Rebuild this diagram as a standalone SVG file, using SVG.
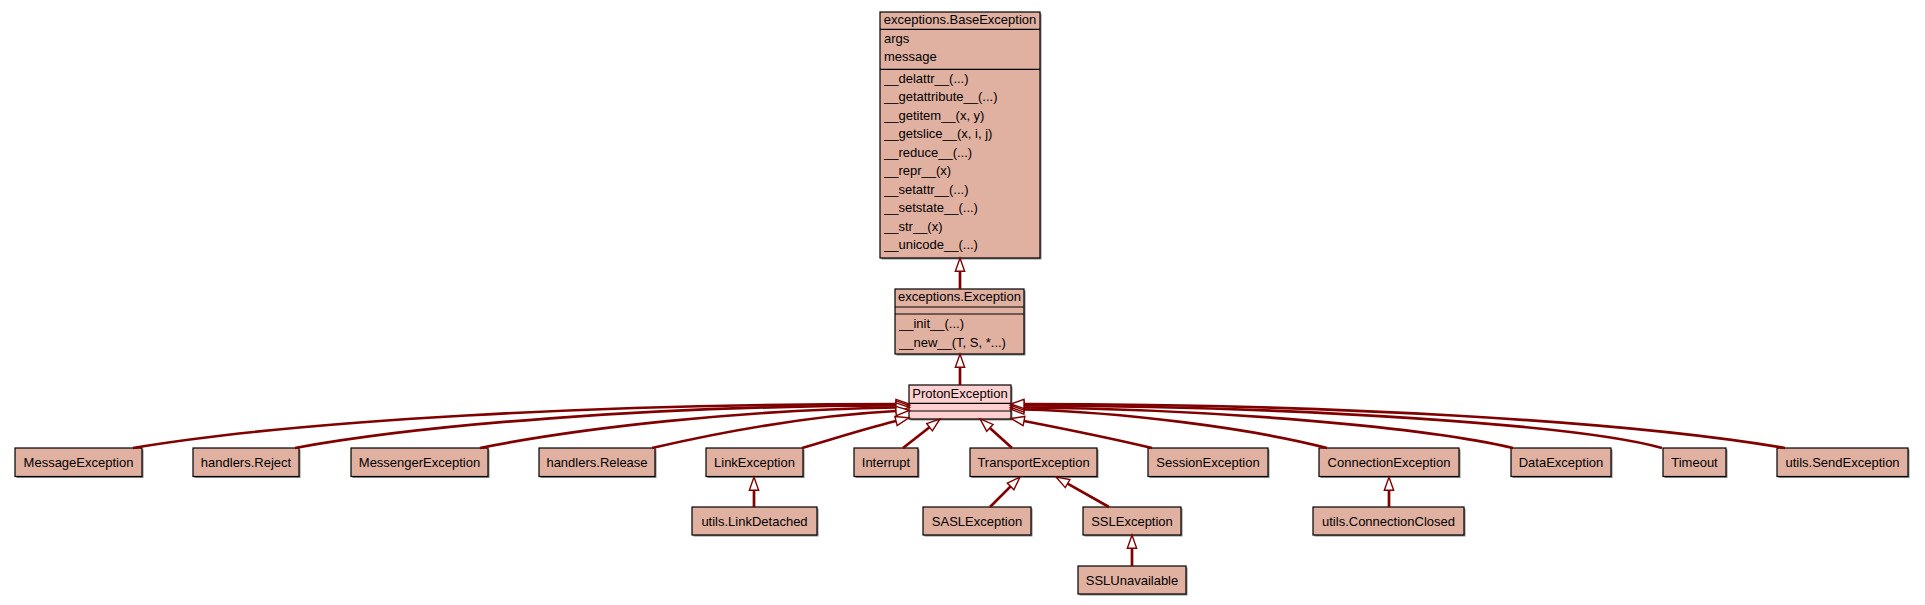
<svg xmlns="http://www.w3.org/2000/svg" width="1925" height="605" viewBox="0 0 1925 605">
<style>
.b{fill:#e0b0a0;stroke:#000;stroke-width:1.2}
.sel{fill:#ffd0d0;stroke:#000;stroke-width:1.2}
.sh{fill:#8a8a8a}
.sep{stroke:#000;stroke-width:1.2}
text{font-family:"Liberation Sans",Arial,Helvetica,sans-serif;font-size:13px;fill:#000}
.c{text-anchor:middle}
.e{fill:none;stroke:#800000;stroke-width:2.7;marker-end:url(#inh)}
</style>
<defs>
<marker id="inh" markerUnits="userSpaceOnUse" markerWidth="16" markerHeight="12" refX="0" refY="5" orient="auto" overflow="visible">
<path d="M0,0.35 L13.3,5 L0,9.65 z" fill="#fff" stroke="#800000" stroke-width="1.4"/>
</marker>
</defs>
<rect width="1925" height="605" fill="#fff"/>

<g id="BaseException">
<rect class="sh" x="881.5" y="13.5" width="160" height="246"/>
<rect class="b" x="880" y="12" width="160" height="246"/>
<line class="sep" x1="880" y1="29.3" x2="1040" y2="29.3"/>
<line class="sep" x1="880" y1="69.3" x2="1040" y2="69.3"/>
<text class="c" x="960" y="24">exceptions.BaseException</text>
<text x="884" y="42.8">args</text>
<text x="884" y="61.2">message</text>
<text x="884" y="82.7">__delattr__(...)</text>
<text x="884" y="101.2">__getattribute__(...)</text>
<text x="884" y="119.7">__getitem__(x, y)</text>
<text x="884" y="138.2">__getslice__(x, i, j)</text>
<text x="884" y="156.7">__reduce__(...)</text>
<text x="884" y="175.2">__repr__(x)</text>
<text x="884" y="193.7">__setattr__(...)</text>
<text x="884" y="212.2">__setstate__(...)</text>
<text x="884" y="230.7">__str__(x)</text>
<text x="884" y="249.2">__unicode__(...)</text>
</g>

<g id="Exception">
<rect class="sh" x="896.5" y="290.5" width="129" height="65"/>
<rect class="b" x="895" y="289" width="129" height="65"/>
<line class="sep" x1="895" y1="307" x2="1024" y2="307"/>
<line class="sep" x1="895" y1="314" x2="1024" y2="314"/>
<text class="c" x="959.5" y="301">exceptions.Exception</text>
<text x="899" y="328.3">__init__(...)</text>
<text x="899" y="346.7">__new__(T, S, *...)</text>
</g>

<g id="ProtonException">
<rect class="sh" x="910.5" y="386.5" width="102" height="34"/>
<rect class="sel" x="909" y="385" width="102" height="34"/>
<line class="sep" x1="909" y1="403.3" x2="1011" y2="403.3"/>
<line class="sep" x1="909" y1="411" x2="1011" y2="411"/>
<text class="c" x="960" y="397.5">ProtonException</text>
</g>

<g id="MessageException"><rect class="sh" x="16.5" y="449.5" width="127" height="28.5"/><rect class="b" x="15" y="448" width="127" height="28.5"/><text class="c" x="78.5" y="466.5">MessageException</text></g>
<g id="handlers.Reject"><rect class="sh" x="194.5" y="449.5" width="106" height="28.5"/><rect class="b" x="193" y="448" width="106" height="28.5"/><text class="c" x="246" y="466.5">handlers.Reject</text></g>
<g id="MessengerException"><rect class="sh" x="352.5" y="449.5" width="137" height="28.5"/><rect class="b" x="351" y="448" width="137" height="28.5"/><text class="c" x="419.5" y="466.5">MessengerException</text></g>
<g id="handlers.Release"><rect class="sh" x="540.5" y="449.5" width="116" height="28.5"/><rect class="b" x="539" y="448" width="116" height="28.5"/><text class="c" x="597" y="466.5">handlers.Release</text></g>
<g id="LinkException"><rect class="sh" x="707.5" y="449.5" width="97" height="28.5"/><rect class="b" x="706" y="448" width="97" height="28.5"/><text class="c" x="754.5" y="466.5">LinkException</text></g>
<g id="Interrupt"><rect class="sh" x="855.5" y="449.5" width="64" height="28.5"/><rect class="b" x="854" y="448" width="64" height="28.5"/><text class="c" x="886" y="466.5">Interrupt</text></g>
<g id="TransportException"><rect class="sh" x="971.5" y="449.5" width="127" height="28.5"/><rect class="b" x="970" y="448" width="127" height="28.5"/><text class="c" x="1033.5" y="466.5">TransportException</text></g>
<g id="SessionException"><rect class="sh" x="1149.5" y="449.5" width="120" height="28.5"/><rect class="b" x="1148" y="448" width="120" height="28.5"/><text class="c" x="1208" y="466.5">SessionException</text></g>
<g id="ConnectionException"><rect class="sh" x="1320.5" y="449.5" width="140" height="28.5"/><rect class="b" x="1319" y="448" width="140" height="28.5"/><text class="c" x="1389" y="466.5">ConnectionException</text></g>
<g id="DataException"><rect class="sh" x="1512.5" y="449.5" width="100" height="28.5"/><rect class="b" x="1511" y="448" width="100" height="28.5"/><text class="c" x="1561" y="466.5">DataException</text></g>
<g id="Timeout"><rect class="sh" x="1664.5" y="449.5" width="63" height="28.5"/><rect class="b" x="1663" y="448" width="63" height="28.5"/><text class="c" x="1694.5" y="466.5">Timeout</text></g>
<g id="utils.SendException"><rect class="sh" x="1778.5" y="449.5" width="131" height="28.5"/><rect class="b" x="1777" y="448" width="131" height="28.5"/><text class="c" x="1842.5" y="466.5">utils.SendException</text></g>

<g id="utils.LinkDetached"><rect class="sh" x="693.5" y="508.5" width="125" height="28"/><rect class="b" x="692" y="507" width="125" height="28"/><text class="c" x="754.5" y="525.5">utils.LinkDetached</text></g>
<g id="SASLException"><rect class="sh" x="924.5" y="508.5" width="108" height="28"/><rect class="b" x="923" y="507" width="108" height="28"/><text class="c" x="977" y="525.5">SASLException</text></g>
<g id="SSLException"><rect class="sh" x="1084.5" y="508.5" width="98" height="28"/><rect class="b" x="1083" y="507" width="98" height="28"/><text class="c" x="1132" y="525.5">SSLException</text></g>
<g id="utils.ConnectionClosed"><rect class="sh" x="1314.5" y="508.5" width="151" height="28"/><rect class="b" x="1313" y="507" width="151" height="28"/><text class="c" x="1388.5" y="525.5">utils.ConnectionClosed</text></g>
<g id="SSLUnavailable"><rect class="sh" x="1079.5" y="567.5" width="108" height="28"/><rect class="b" x="1078" y="566" width="108" height="28"/><text class="c" x="1132" y="584.5">SSLUnavailable</text></g>

<g id="connectors">
<path class="e" d="M960,289 L960,271.3"/>
<path class="e" d="M960,385 L960,367.3"/>
<path class="e" d="M133,448 C300,420 600,404 896,404"/>
<path class="e" d="M295,448 C420,425 650,406 896,405.5"/>
<path class="e" d="M480,448 C580,428 740,410 896,407.5"/>
<path class="e" d="M652,448 C730,430 820,415 896,411"/>
<path class="e" d="M802,448 C830,440 860,430 896,421"/>
<path class="e" d="M903,448 L929.5,427.2"/>
<path class="e" d="M1012,448 L989.9,427.9"/>
<path class="e" d="M1152,448 C1110,438 1060,428 1024,421"/>
<path class="e" d="M1327,448 C1250,428 1120,412 1024,409.5"/>
<path class="e" d="M1513,448 C1430,428 1220,409 1024,407.5"/>
<path class="e" d="M1662,448 C1580,425 1300,406 1024,405.5"/>
<path class="e" d="M1785,448 C1620,420 1320,404 1024,404"/>
<path class="e" d="M754,507 L754,490.3"/>
<path class="e" d="M990,507 L1010.6,486.4"/>
<path class="e" d="M1109,507 L1067.6,483.6"/>
<path class="e" d="M1132,566 L1132,548.3"/>
<path class="e" d="M1389,507 L1389,490.3"/>
</g>
</svg>
